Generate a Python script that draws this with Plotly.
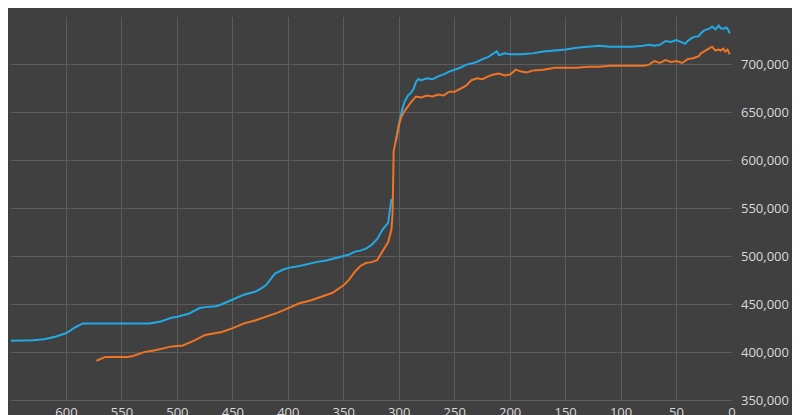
import plotly.graph_objects as go

blue_x = [650,640,630,620,610,600,592,585,570,550,530,525,515,505,500,490,480,475,465,460,450,440,430,425,420,415,412,405,400,390,380,375,365,355,350,345,340,335,330,325,320,315,310,307,
          305,303,300,297,295,292,290,287,285,283,280,275,270,265,260,255,250,245,240,230,225,220,215,212,210,205,200,190,180,170,160,150,140,130,120,110,100,90,80,75,70,65,60,55,50,45,42,40,35,30,28,25,20,18,15,12,10,7,5,3,2]
blue_y = [412,412,412.5,413.5,416,420,426,430,430,430,430,430,432,436,437,440,446,447,448,450,455,460,463,466,470,477,482,486,488,490,493,494,496,499,500,502,505,506,508,512,518,528,535,560,
          None,620,640,655,662,668,670,675,682,685,684,686,685,688,690,693,695,697,700,703,706,708,712,714,710,712,711,711,712,714,715,716,718,719,720,719,719,719,720,721,720,721,725,724,726,723,722,725,729,730,733,736,738,740,737,741,738,738,739,736,733]
orange_x = [573,565,555,545,540,530,520,510,505,495,485,475,470,460,450,440,430,420,410,400,390,380,370,360,350,345,340,335,330,325,320,315,310,307,306,305,302,300,298,295,290,287,285,280,275,270,265,260,255,250,245,240,235,230,225,220,215,210,205,200,195,190,185,180,170,160,150,140,130,120,110,100,90,80,75,70,65,60,55,50,45,40,35,30,28,25,20,18,15,12,10,8,6,4,2]
orange_y = [391,395,395,395,396,400,402,405,406,407,412,418,419,421,425,430,433,437,441,446,451,454,458,462,470,476,484,490,493,494,496,505,515,528,545,610,628,638,646,652,660,665,667,666,668,667,669,668,672,672,675,678,684,686,685,688,690,691,689,690,695,693,692,694,695,697,697,697,698,698,699,699,699,699,700,704,702,705,703,704,702,706,707,709,712,714,717,719,715,716,715,717,714,716,711]

fig = go.Figure()
fig.add_trace(go.Scatter(x=blue_x, y=[v*1000 if v is not None else None for v in blue_y],
                         mode="lines", line=dict(color="#22aae6", width=2), connectgaps=False))
fig.add_trace(go.Scatter(x=orange_x, y=[v*1000 for v in orange_y],
                         mode="lines", line=dict(color="#f07424", width=2)))
fig.update_layout(
    width=800, height=415, showlegend=False,
    paper_bgcolor="#404040", plot_bgcolor="#404040",
    margin=dict(l=3, r=76, t=9, b=23, autoexpand=False),
    font=dict(family="Open Sans", size=13, color="#d9d9d9"),
    xaxis=dict(range=[650, 0], tickvals=list(range(650, -1, -50)), gridcolor="#5c5c5c",
               zeroline=False, showline=True, linecolor="#5c5c5c", ticks="", automargin=False),
    yaxis=dict(range=[350000, 750000], side="right", tickvals=list(range(350000, 750001, 50000)),
               tickformat=",d", gridcolor="#5c5c5c", zeroline=False, ticks="", ticklabelstandoff=8,
               automargin=False),
)
fig.write_html("out.html")
